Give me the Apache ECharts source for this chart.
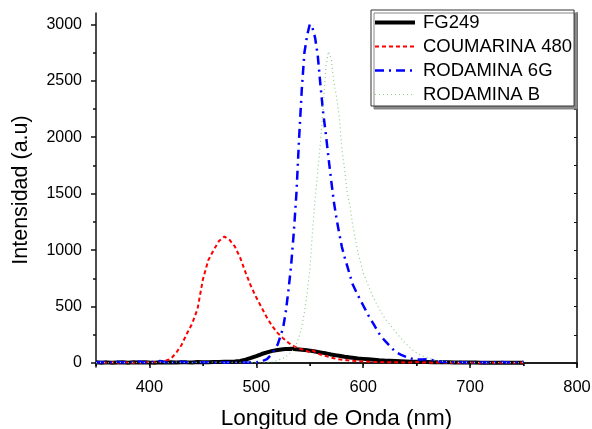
<!DOCTYPE html>
<html>
<head>
<meta charset="utf-8">
<script src="https://cdn.jsdelivr.net/npm/echarts@6/dist/echarts.min.js"></script>
<style>
  html, body { margin: 0; padding: 0; background: #fff; }
  #chart { width: 592px; height: 429px; }
</style>
</head>
<body>
<div id="chart"></div>
<script>
// wavelengths (nm): 5 nm steps, 2.5 nm around the peaks
var wavelength = [
  350,355,360,365,370,375,380,385,390,395,400,405,410,415,420,425,430,435,440,445,
  450,455,460,465,470,475,480,485,490,495,500,505,510,515,520,
  525,527.5,530,532.5,535,537.5,540,542.5,545,547.5,550,552.5,555,557.5,560,562.5,
  565,567.5,570,572.5,575,577.5,580,582.5,585,587.5,590,
  595,600,605,610,615,620,625,630,635,640,645,650,655,660,665,670,675,680,685,690,
  695,700,705,710,715,720,725,730,735,740,745,750
];

var fg249 = [
  8,3,6,2,5,7,3,6,4,8,5,3,7,4,6,5,8,6,5,9,
  7,8,9,10,11,12,14,19,30,45,62,80,95,108,116,
  122,124,125,126,124,122,120,118,116,113,110,106,102,98,94,90,
  86,81,76,72,68,64,60,56,53,50,47,
  41,37,33,29,25,22,20,18,16,14,12,11,10,9,8,7,6,6,5,5,
  4,4,4,3,3,3,2,3,2,2,2,2
];

var coumarina480 = [
  4,8,2,6,3,9,5,2,7,4,10,6,12,20,38,90,160,260,350,480,
  740,910,1000,1080,1120,1090,1030,930,800,680,580,490,400,325,265,
  220,200,180,165,150,138,128,122,118,105,95,112,100,85,75,68,
  62,55,48,42,38,33,30,27,25,22,20,
  16,14,12,10,9,8,7,6,8,5,6,10,4,5,3,6,4,3,5,2,
  4,3,5,2,4,3,5,2,4,3,5,3
];

var rodamina6G = [
  5,10,3,8,12,4,9,6,14,5,8,11,18,6,9,4,12,7,5,10,
  6,8,4,7,5,6,4,8,5,6,8,15,35,86,165,
  310,450,640,860,1150,1500,1990,2420,2750,2900,3000,2970,2880,2720,2460,2220,
  2030,1820,1620,1430,1280,1150,1030,940,860,780,700,
  600,510,420,340,260,200,150,100,75,55,40,30,32,35,25,14,10,8,6,9,
  5,7,4,8,5,10,6,9,5,8,6,10
];

var rodaminaB = [
  3,6,2,5,8,3,4,7,2,5,6,3,8,4,5,9,3,6,4,7,
  8,5,10,6,4,8,5,7,9,6,8,10,7,12,25,
  42,55,75,95,125,170,233,320,450,620,820,1160,1460,1700,1960,2250,
  2620,2760,2700,2490,2360,2190,1900,1720,1510,1400,1230,
  980,800,680,570,480,400,340,280,220,170,125,90,65,48,33,22,15,10,8,6,
  5,7,4,6,3,5,4,6,3,5,4,6
];

var xMajor = [400, 500, 600, 700, 800];
var xMinor = [350, 450, 550, 650, 750];
var yMajor = [0, 500, 1000, 1500, 2000, 2500, 3000];
var yMinor = [250, 750, 1250, 1750, 2250, 2750];
var seriesNames = ['FG249', 'COUMARINA 480', 'RODAMINA 6G', 'RODAMINA B'];

var font = 'Liberation Sans, Arial, sans-serif';

function pairs(values) {
  return wavelength.map(function (w, i) { return [w, values[i]]; });
}

var lineAxis = { lineStyle: { color: '#111', width: 1.5 } };

var option = {
  animation: false,
  backgroundColor: '#fff',
  textStyle: { fontFamily: font },
  // fixed plot box, do not let labels shrink it
  grid: { left: 96, right: 15, top: 13, bottom: 62, outerBoundsMode: 'none' },
  legend: {
    orient: 'vertical',
    left: 371,
    top: 10,
    itemWidth: 40,
    itemHeight: 14,
    itemGap: 5,
    padding: [3, 2, 2, 2],
    borderColor: '#333',
    borderWidth: 1,
    backgroundColor: '#fff',
    shadowColor: '#888',
    shadowOffsetX: 3,
    shadowOffsetY: 3,
    shadowBlur: 0,
    // hide the marker circle, keep only the line sample
    itemStyle: { opacity: 0 },
    lineStyle: { width: 'inherit' },
    textStyle: { fontSize: 18.5, color: '#000', lineHeight: 18, fontFamily: font, padding: [0, 0, 0, 3] },
    data: seriesNames
  },
  xAxis: [
    {
      type: 'value', position: 'bottom', min: 350, max: 800,
      axisLine: lineAxis,
      axisTick: { customValues: xMajor, length: 5, lineStyle: { color: '#111', width: 1.5 } },
      axisLabel: { customValues: xMajor, fontSize: 16.5, color: '#000', margin: 12, fontFamily: font },
      splitLine: { show: false },
      name: 'Longitud de Onda (nm)',
      nameLocation: 'middle',
      nameGap: 40,
      nameTextStyle: { fontSize: 22.5, color: '#000', fontFamily: font }
    },
    {
      // minor ticks on the bottom
      type: 'value', position: 'bottom', min: 350, max: 800,
      axisLine: { show: false },
      axisTick: { customValues: xMinor, length: 3, lineStyle: { color: '#111', width: 1.5 } },
      axisLabel: { show: false },
      splitLine: { show: false }
    },
    {
      // top frame
      type: 'value', position: 'top', min: 350, max: 800,
      axisLine: lineAxis,
      axisTick: { customValues: xMajor.concat(xMinor), inside: true, length: 3, lineStyle: { color: '#111', width: 1 } },
      axisLabel: { show: false },
      splitLine: { show: false }
    }
  ],
  yAxis: [
    {
      type: 'value', position: 'left', min: -35, max: 3100,
      axisLine: lineAxis,
      axisTick: { customValues: yMajor, length: 5, lineStyle: { color: '#111', width: 1.5 } },
      axisLabel: {
        customValues: yMajor, fontSize: 16, color: '#000', margin: 14, fontFamily: font,
        formatter: function (v) { return String(v); }
      },
      splitLine: { show: false },
      name: 'Intensidad (a.u)',
      nameLocation: 'middle',
      nameGap: 64,
      nameTextStyle: { fontSize: 21.5, color: '#000', fontFamily: font }
    },
    {
      // minor ticks on the left
      type: 'value', position: 'left', min: -35, max: 3100,
      axisLine: { show: false },
      axisTick: { customValues: yMinor, length: 3, lineStyle: { color: '#111', width: 1.5 } },
      axisLabel: { show: false },
      splitLine: { show: false }
    },
    {
      // right frame
      type: 'value', position: 'right', min: -35, max: 3100,
      axisLine: lineAxis,
      axisTick: { customValues: yMajor.concat(yMinor), inside: true, length: 3, lineStyle: { color: '#111', width: 1 } },
      axisLabel: { show: false },
      splitLine: { show: false }
    }
  ],
  series: [
    {
      name: 'FG249', type: 'line', showSymbol: false, symbol: 'none',
      data: pairs(fg249),
      lineStyle: { color: '#000', width: 4 },
      itemStyle: { color: '#000' }
    },
    {
      name: 'COUMARINA 480', type: 'line', showSymbol: false, symbol: 'none',
      data: pairs(coumarina480),
      lineStyle: { color: '#ff0000', width: 2, type: [4, 3] },
      itemStyle: { color: '#ff0000' }
    },
    {
      name: 'RODAMINA 6G', type: 'line', showSymbol: false, symbol: 'none',
      data: pairs(rodamina6G),
      lineStyle: { color: '#0000ff', width: 2.5, type: [9, 5, 2, 5] },
      itemStyle: { color: '#0000ff' }
    },
    {
      name: 'RODAMINA B', type: 'line', showSymbol: false, symbol: 'none',
      data: pairs(rodaminaB),
      lineStyle: { color: '#8fcc8f', width: 1.2, type: [1, 3] },
      itemStyle: { color: '#8fcc8f' }
    }
  ]
};

var myChart = echarts.init(document.getElementById('chart'), null, { renderer: 'canvas' });
myChart.setOption(option);
</script>
</body>
</html>
